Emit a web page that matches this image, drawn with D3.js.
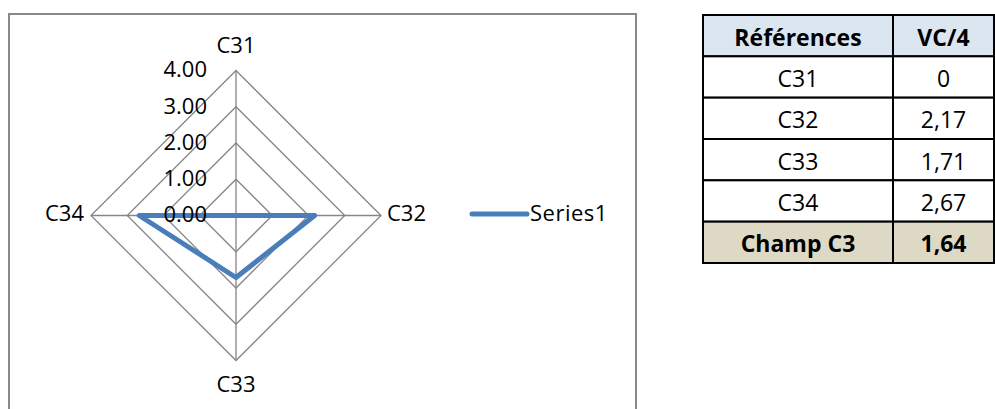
<!DOCTYPE html>
<html>
<head>
<meta charset="utf-8">
<script src="https://cdn.jsdelivr.net/npm/d3@7"></script>
<style>
  body { margin: 0; background: #fff; }
  svg { display: block; font-family: "Open Sans", sans-serif; }
</style>
</head>
<body>
<script>
(function (){

    //chart data
    var categories = ["C31", "C32", "C33", "C34"];
    var values = [0, 2.17, 1.71, 2.67];
    var tickValues = [0, 1, 2, 3, 4];
    var seriesName = "Series1";

    //table data
    var tableHeader = ["Références", "VC/4"];
    var tableLabels = ["C31", "C32", "C33", "C34"];
    var tableValues = ["0", "2,17", "1,71", "2,67"];
    var totalRow = ["Champ C3", "1,64"];

    var width = 995,
        height = 409;

    var svg = d3.select("body")
        .append("svg")
        .attr("width", width)
        .attr("height", height);

    //chart frame
    svg.append("rect")
        .attr("x", 9)
        .attr("y", 14)
        .attr("width", 627)
        .attr("height", 410)
        .attr("fill", "#fff")
        .attr("stroke", "#898989")
        .attr("stroke-width", 2);

    //radar geometry
    var cx = 236, cy = 215.5;
    var r = d3.scaleLinear().domain([0, 4]).range([0, 145]);
    var angle = d3.scaleLinear().domain([0, categories.length]).range([0, 2 * Math.PI]);

    var g = svg.append("g").attr("transform", "translate(" + cx + "," + cy + ")");

    var radial = d3.lineRadial()
        .angle(function(d){ return d[0]; })
        .radius(function(d){ return r(d[1]); })
        .curve(d3.curveLinearClosed);

    //grid rings
    g.selectAll(".ring")
        .data(tickValues.slice(1))
        .enter()
        .append("path")
        .attr("class", "ring")
        .attr("d", function(t){
            return radial(categories.map(function(c, i){ return [angle(i), t]; }));
        })
        .attr("fill", "none")
        .attr("stroke", "#868686")
        .attr("stroke-width", 1.3);

    //spokes
    g.selectAll(".spoke")
        .data(categories)
        .enter()
        .append("line")
        .attr("class", "spoke")
        .attr("x1", 0).attr("y1", 0)
        .attr("x2", function(d, i){ return r(4) * Math.sin(angle(i)); })
        .attr("y2", function(d, i){ return -r(4) * Math.cos(angle(i)); })
        .attr("stroke", "#868686")
        .attr("stroke-width", 1.3);

    //series
    g.append("path")
        .datum(values.map(function(v, i){ return [angle(i), v]; }))
        .attr("d", radial)
        .attr("fill", "none")
        .attr("stroke", "#4a7ebb")
        .attr("stroke-width", 5)
        .attr("stroke-linejoin", "round");

    //tick labels
    g.selectAll(".tick")
        .data(tickValues)
        .enter()
        .append("text")
        .attr("class", "tick")
        .attr("x", -29)
        .attr("y", function(d){ return -r(d) + 1; })
        .attr("text-anchor", "end")
        .attr("dominant-baseline", "middle")
        .style("font-size", "22px")
        .text(function(d){ return d3.format(".2f")(d); });

    //category labels
    var labelPos = [
        {x: 0, y: -168, anchor: "middle"},
        {x: 151, y: 0, anchor: "start"},
        {x: 0, y: 171, anchor: "middle"},
        {x: -152, y: 0, anchor: "end"}
    ];
    g.selectAll(".cat")
        .data(categories)
        .enter()
        .append("text")
        .attr("class", "cat")
        .attr("x", function(d, i){ return labelPos[i].x; })
        .attr("y", function(d, i){ return labelPos[i].y; })
        .attr("text-anchor", function(d, i){ return labelPos[i].anchor; })
        .attr("dominant-baseline", "middle")
        .style("font-size", "22px")
        .text(function(d){ return d; });

    //legend
    svg.append("line")
        .attr("x1", 472).attr("x2", 527)
        .attr("y1", 214).attr("y2", 214)
        .attr("stroke", "#4a7ebb")
        .attr("stroke-width", 5)
        .attr("stroke-linecap", "round");
    svg.append("text")
        .attr("x", 530)
        .attr("y", 215)
        .attr("dominant-baseline", "middle")
        .style("font-size", "22px")
        .style("letter-spacing", "0.5px")
        .text(seriesName);

    //table
    var colX = [703, 893, 994];
    var rows = [tableHeader].concat(tableLabels.map(function(d, i){ return [d, tableValues[i]]; }), [totalRow]);
    var rowY = d3.scaleLinear().domain([0, rows.length]).range([15, 263]);

    var tbl = svg.append("g").attr("class", "table");

    var rowG = tbl.selectAll(".row")
        .data(rows)
        .enter()
        .append("g")
        .attr("class", "row");

    rowG.append("rect")
        .attr("x", colX[0])
        .attr("y", function(d, i){ return rowY(i); })
        .attr("width", colX[2] - colX[0])
        .attr("height", function(d, i){ return rowY(i + 1) - rowY(i); })
        .attr("fill", function(d, i){
            if (i == 0) return "#dce6f1";
            if (i == rows.length - 1) return "#ddd9c4";
            return "#fff";
        })
        .attr("stroke", "#000")
        .attr("stroke-width", 2);

    rowG.selectAll("text")
        .data(function(d, i){ return d.map(function(t, j){ return {t: t, row: i, col: j}; }); })
        .enter()
        .append("text")
        .attr("x", function(d){ return (colX[d.col] + colX[d.col + 1]) / 2; })
        .attr("y", function(d){ return (rowY(d.row) + rowY(d.row + 1)) / 2 + 4; })
        .attr("text-anchor", "middle")
        .attr("dominant-baseline", "middle")
        .style("font-size", "23px")
        .style("font-weight", function(d){ return (d.row == 0 || d.row == rows.length - 1) ? "bold" : "normal"; })
        .text(function(d){ return d.t; });

    //column divider
    tbl.append("line")
        .attr("x1", colX[1]).attr("x2", colX[1])
        .attr("y1", rowY(0)).attr("y2", rowY(rows.length))
        .attr("stroke", "#000")
        .attr("stroke-width", 2);

})();
</script>
</body>
</html>
